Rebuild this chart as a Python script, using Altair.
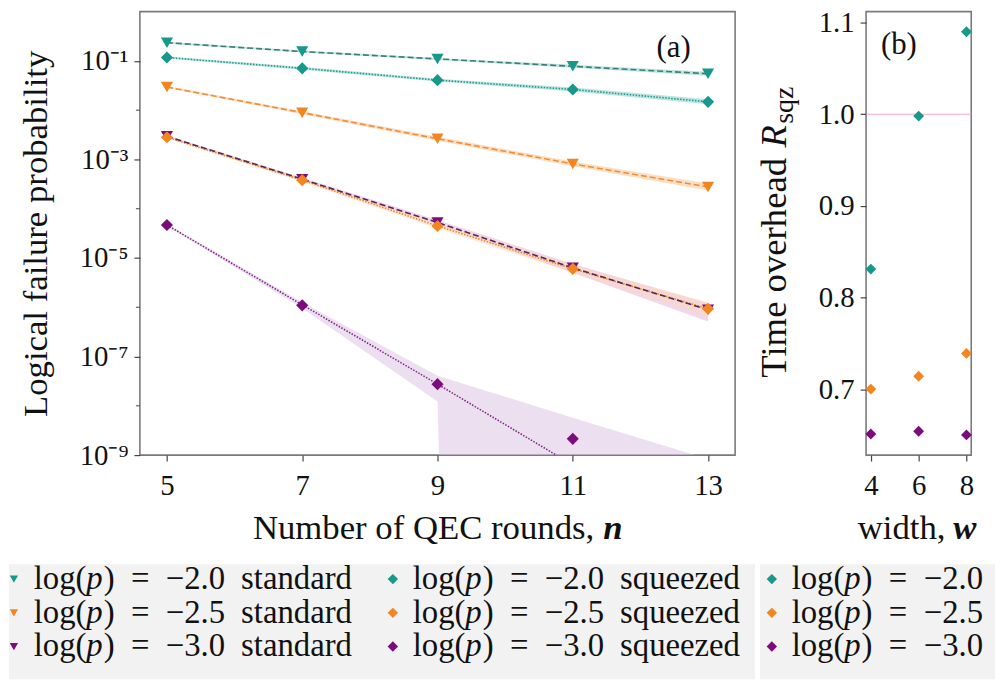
import altair as alt
import pandas as pd

FONT = "Liberation Serif"

# ---------------- panel (a): logical failure probability vs QEC rounds ----------------
rounds = [5, 7, 9, 11, 13]

# log10 of the logical failure probability
std_m20 = [-0.63, -0.81, -0.96, -1.11, -1.26]
std_m25 = [-1.53, -2.05, -2.58, -3.09, -3.56]
std_m30 = [-2.53, -3.40, -4.28, -5.20, -6.05]
sqz_m20 = [-0.93, -1.15, -1.39, -1.58, -1.83]
sqz_m25 = [-2.55, -3.42, -4.35, -5.22, -6.03]
sqz_m30 = [-4.33, -5.96, -7.56, -8.67, None]

# trend line drawn through the squeezed log(p) = -3.0 series
sqz_m30_trend = [-4.33, -5.95, -7.56, -9.20, -10.80]

# confidence bands, log10 lower / upper
std_m20_lo = [-0.65, -0.83, -0.98, -1.14, -1.30]
std_m20_hi = [-0.61, -0.79, -0.94, -1.08, -1.22]
std_m25_lo = [-1.55, -2.08, -2.62, -3.14, -3.63]
std_m25_hi = [-1.51, -2.02, -2.54, -3.04, -3.49]
std_m30_lo = [-2.55, -3.43, -4.33, -5.30, -6.29]
std_m30_hi = [-2.51, -3.37, -4.23, -5.12, -5.92]
sqz_m20_lo = [-0.95, -1.18, -1.42, -1.62, -1.88]
sqz_m20_hi = [-0.91, -1.12, -1.36, -1.54, -1.78]
sqz_m25_lo = [-2.57, -3.45, -4.40, -5.30, -6.18]
sqz_m25_hi = [-2.53, -3.39, -4.30, -5.14, -5.90]
sqz_m30_lo = [-4.35, -6.02, -7.91, -100.0, -100.0]
sqz_m30_hi = [-4.31, -5.90, -7.39, -8.24, -9.08]

series_ids = ["std20", "std25", "std30", "sqz20", "sqz25", "sqz30"]
marker_colors = ["#16988b", "#f2851f", "#7c0c7c", "#16988b", "#f2851f", "#7c0c7c"]
marker_shapes = ["triangle-down", "triangle-down", "triangle-down", "diamond", "diamond", "diamond"]
line_colors = ["#3a7c77", "#f08d36", "#55284f", "#1d9a8e", "#f2851f", "#85258a"]
line_dashes = [[6, 3], [6, 3], [6, 3], [1.5, 1.5], [1.5, 1.5], [1.5, 1.5]]
band_colors = ["#7dc9c1", "#f9bd87", "#e6aed6", "#7dc9c1", "#f9d7b9", "#d9c1e1"]

values = {"std20": std_m20, "std25": std_m25, "std30": std_m30,
          "sqz20": sqz_m20, "sqz25": sqz_m25, "sqz30": sqz_m30}
lines = {"std20": std_m20, "std25": std_m25, "std30": std_m30,
         "sqz20": sqz_m20, "sqz25": sqz_m25, "sqz30": sqz_m30_trend}
bands = {"std20": (std_m20_lo, std_m20_hi), "std25": (std_m25_lo, std_m25_hi),
         "std30": (std_m30_lo, std_m30_hi), "sqz20": (sqz_m20_lo, sqz_m20_hi),
         "sqz25": (sqz_m25_lo, sqz_m25_hi), "sqz30": (sqz_m30_lo, sqz_m30_hi)}

# odd decades carry labels, even decades get short minor ticks
major_decades = [1e-9, 1e-7, 1e-5, 1e-3, 1e-1]
minor_decades = [1e-8, 1e-6, 1e-4, 1e-2]

point_rows, line_rows, band_rows = [], [], []
for sid in series_ids:
    for i, n in enumerate(rounds):
        if values[sid][i] is not None:
            point_rows.append({"n": n, "p": 10 ** values[sid][i], "sid": sid})
        line_rows.append({"n": n, "p": 10 ** lines[sid][i], "sid": sid,
                          "kind": "std" if sid.startswith("std") else "sqz"})
        lo, hi = bands[sid]
        band_rows.append({"n": n, "p": 10 ** lo[i], "hi": 10 ** hi[i], "sid": sid})

points_df = pd.DataFrame(point_rows)
lines_df = pd.DataFrame(line_rows)
bands_df = pd.DataFrame(band_rows)

label_expr = ("datum.value > 0.05 ? '10⁻¹' : datum.value > 5e-4 ? '10⁻³' : "
              "datum.value > 5e-6 ? '10⁻⁵' : datum.value > 5e-8 ? '10⁻⁷' : '10⁻⁹'")

x_scale_a = alt.Scale(domain=[4.6, 13.4], nice=False, zero=False)
y_scale_a = alt.Scale(type="log", domain=[1e-9, 1], nice=False)

X_axis_a = alt.X("n:Q", scale=x_scale_a,
                 axis=alt.Axis(values=rounds, format="d", title=None, labelPadding=11))
Y_axis_a = alt.Y("p:Q", scale=y_scale_a,
                 axis=alt.Axis(values=major_decades, labelExpr=label_expr, titlePadding=26,
                               title="Logical failure probability"))
X_a = alt.X("n:Q", scale=x_scale_a, axis=None)
Y_a = alt.Y("p:Q", scale=y_scale_a, axis=None)

stroke_scale = alt.Scale(domain=series_ids, range=line_colors)
dash_scale = alt.Scale(domain=series_ids, range=line_dashes)

band_layer = alt.Chart(bands_df).mark_area(clip=True, fillOpacity=0.5).encode(
    x=X_axis_a, y=Y_axis_a, y2="hi:Q",
    fill=alt.Fill("sid:N", scale=alt.Scale(domain=series_ids, range=band_colors), legend=None),
)

dotted_layer = alt.Chart(lines_df[lines_df.kind == "sqz"]).mark_line(clip=True, strokeWidth=1.6).encode(
    x=X_a, y=Y_a,
    stroke=alt.Stroke("sid:N", scale=stroke_scale, legend=None),
    strokeDash=alt.StrokeDash("sid:N", scale=dash_scale, legend=None),
)

dashed_layer = alt.Chart(lines_df[lines_df.kind == "std"]).mark_line(clip=True, strokeWidth=1.6).encode(
    x=X_a, y=Y_a,
    stroke=alt.Stroke("sid:N", scale=stroke_scale, legend=None),
    strokeDash=alt.StrokeDash("sid:N", scale=dash_scale, legend=None),
)

point_layer = alt.Chart(points_df).mark_point(filled=True, opacity=1, size=150, clip=True).encode(
    x=X_a, y=Y_a,
    color=alt.Color("sid:N", scale=alt.Scale(domain=series_ids, range=marker_colors), legend=None),
    shape=alt.Shape("sid:N", scale=alt.Scale(domain=series_ids, range=marker_shapes), legend=None),
)

minor_ticks = alt.Chart(pd.DataFrame({"p": minor_decades})).mark_rule(
    color="#444444", strokeWidth=1).encode(y=Y_a, x=alt.value(-4), x2=alt.value(0))

tag_a = alt.Chart(pd.DataFrame({"t": ["(a)"]})).mark_text(
    font=FONT, fontSize=31, color="#111111", align="center", baseline="middle"
).encode(text="t:N", x=alt.value(538), y=alt.value(37))

xtitle_a = alt.Chart(pd.DataFrame({"t": ["Number of QEC rounds,"]})).mark_text(
    font=FONT, fontSize=35, color="#111111", align="right", baseline="alphabetic"
).encode(text="t:N", x=alt.value(458), y=alt.value(532))
xtitle_a_sym = alt.Chart(pd.DataFrame({"t": ["n"]})).mark_text(
    font=FONT, fontSize=35, fontStyle="italic", fontWeight="bold", color="#111111",
    align="left", baseline="alphabetic"
).encode(text="t:N", x=alt.value(467), y=alt.value(532))

# ---------------- legend entries (drawn beside panel (a)) ----------------
log_p_levels = ["−2.0", "−2.5", "−3.0"]
level_colors = ["#16988b", "#f2851f", "#7c0c7c"]
legend_groups = ["standard", "squeezed", ""]
group_shapes = ["triangle-down", "diamond", "diamond"]
group_sizes = [70, 110, 110]

LEG_X0, LEG_COL_STEP = -127, 382
LEG_Y0, LEG_ROW_STEP = 572, 34

leg_rows = []
for c, (grp, shp, sz) in enumerate(zip(legend_groups, group_shapes, group_sizes)):
    for r, (lev, col) in enumerate(zip(log_p_levels, level_colors)):
        leg_rows.append({"lx": LEG_X0 + c * LEG_COL_STEP, "ly": LEG_Y0 + r * LEG_ROW_STEP,
                         "shape": shp, "color": col, "size": sz,
                         "rest": f")\u2002=\u2002{lev}", "grp": grp})
leg_df = pd.DataFrame(leg_rows)

leg_boxes = pd.DataFrame({"x0": [-132, 625], "x1": [620, 862], "y0": [557, 557], "y1": [673, 673]})

LX = alt.X("lx:Q", scale=None, axis=None)
LY = alt.Y("ly:Q", scale=None, axis=None)

leg_bg = alt.Chart(leg_boxes).mark_rect(color="#f2f2f2").encode(
    x=alt.X("x0:Q", scale=None, axis=None), x2="x1:Q",
    y=alt.Y("y0:Q", scale=None, axis=None), y2="y1:Q")

leg_sym = alt.Chart(leg_df).mark_point(filled=True, opacity=1).encode(
    x=LX, y=LY,
    shape=alt.Shape("shape:N", scale=None),
    color=alt.Color("color:N", scale=None),
    size=alt.Size("size:Q", scale=None),
)

leg_txt_style = dict(font=FONT, fontSize=33, color="#111111", align="left", baseline="middle")
leg_log = alt.Chart(leg_df).mark_text(dx=20, **leg_txt_style).encode(
    x=LX, y=LY, text=alt.value("log("))
leg_p = alt.Chart(leg_df).mark_text(dx=73, fontStyle="italic", **leg_txt_style).encode(
    x=LX, y=LY, text=alt.value("p"))
leg_rest = alt.Chart(leg_df).mark_text(dx=90.5, **leg_txt_style).encode(
    x=LX, y=LY, text="rest:N")
leg_grp = alt.Chart(leg_df).mark_text(dx=229, **leg_txt_style).encode(
    x=LX, y=LY, text="grp:N")

panel_a = alt.layer(
    band_layer, dotted_layer, dashed_layer, point_layer, minor_ticks, tag_a,
    xtitle_a, xtitle_a_sym, leg_bg, leg_sym, leg_log, leg_p, leg_rest, leg_grp
).resolve_scale(x="independent", y="independent").properties(width=600, height=447)

# ---------------- panel (b): time overhead vs patch width ----------------
widths = [4, 6, 8]
overhead_m20 = [0.831, 0.998, 1.090]
overhead_m25 = [0.700, 0.714, 0.739]
overhead_m30 = [0.651, 0.654, 0.650]
ref_level = [1.0]

b_rows = []
for lev, vals in zip(log_p_levels, [overhead_m20, overhead_m25, overhead_m30]):
    for w, r in zip(widths, vals):
        b_rows.append({"w": w, "r": r, "lev": lev})
b_df = pd.DataFrame(b_rows)

X_b = alt.X("w:Q", scale=alt.Scale(domain=[3.8, 8.2], nice=False, zero=False),
            axis=alt.Axis(values=widths, format="d", title=None, labelPadding=11))
Y_b = alt.Y("r:Q", scale=alt.Scale(domain=[0.628, 1.112], nice=False, zero=False),
            axis=alt.Axis(values=[0.7, 0.8, 0.9, 1.0, 1.1], format=".1f", title=None))

ref_rule = alt.Chart(pd.DataFrame({"r": ref_level})).mark_rule(
    color="#f4aac0", strokeWidth=1).encode(y=Y_b)

points_b = alt.Chart(b_df).mark_point(filled=True, opacity=1, size=120, shape="diamond").encode(
    x=X_b, y=Y_b,
    color=alt.Color("lev:N", scale=alt.Scale(domain=log_p_levels, range=level_colors), legend=None),
)

tag_b = alt.Chart(pd.DataFrame({"t": ["(b)"]})).mark_text(
    font=FONT, fontSize=31, color="#111111", align="center", baseline="middle"
).encode(text="t:N", x=alt.value(33), y=alt.value(34))

title_b_main = alt.Chart(pd.DataFrame({"t": ["Time overhead"]})).mark_text(
    font=FONT, fontSize=37, color="#111111", align="left", baseline="middle", angle=270
).encode(text="t:N", x=alt.value(-92), y=alt.value(369))
title_b_sym = alt.Chart(pd.DataFrame({"t": ["R"]})).mark_text(
    font=FONT, fontSize=37, fontStyle="italic", color="#111111", align="left",
    baseline="middle", angle=270
).encode(text="t:N", x=alt.value(-92), y=alt.value(137))
title_b_sub = alt.Chart(pd.DataFrame({"t": ["sqz"]})).mark_text(
    font=FONT, fontSize=28, color="#111111", align="left", baseline="middle", angle=270
).encode(text="t:N", x=alt.value(-82), y=alt.value(113))

xtitle_b = alt.Chart(pd.DataFrame({"t": ["width,"]})).mark_text(
    font=FONT, fontSize=35, color="#111111", align="right", baseline="alphabetic"
).encode(text="t:N", x=alt.value(80), y=alt.value(532))
xtitle_b_sym = alt.Chart(pd.DataFrame({"t": ["w"]})).mark_text(
    font=FONT, fontSize=35, fontStyle="italic", fontWeight="bold", color="#111111",
    align="left", baseline="alphabetic"
).encode(text="t:N", x=alt.value(88), y=alt.value(532))

panel_b = alt.layer(
    ref_rule, points_b, tag_b, title_b_main, title_b_sym, title_b_sub, xtitle_b, xtitle_b_sym
).properties(width=106, height=447)

chart = alt.hconcat(panel_a, panel_b, spacing=132, bounds="flush").properties(
    padding={"left": 8, "top": 5, "right": 0, "bottom": 0}
).configure_axis(
    labelFont=FONT, titleFont=FONT, labelFontSize=29, titleFontSize=35,
    labelColor="#111111", titleColor="#111111", titleFontWeight="normal",
    domain=False, grid=False, tickColor="#444444", tickSize=6, tickWidth=1.2,
    labelPadding=6,
).configure_view(
    stroke="#7a7a7a", strokeWidth=1.6
)

chart.save("out.html", embed_options={"renderer": "svg", "actions": False})
